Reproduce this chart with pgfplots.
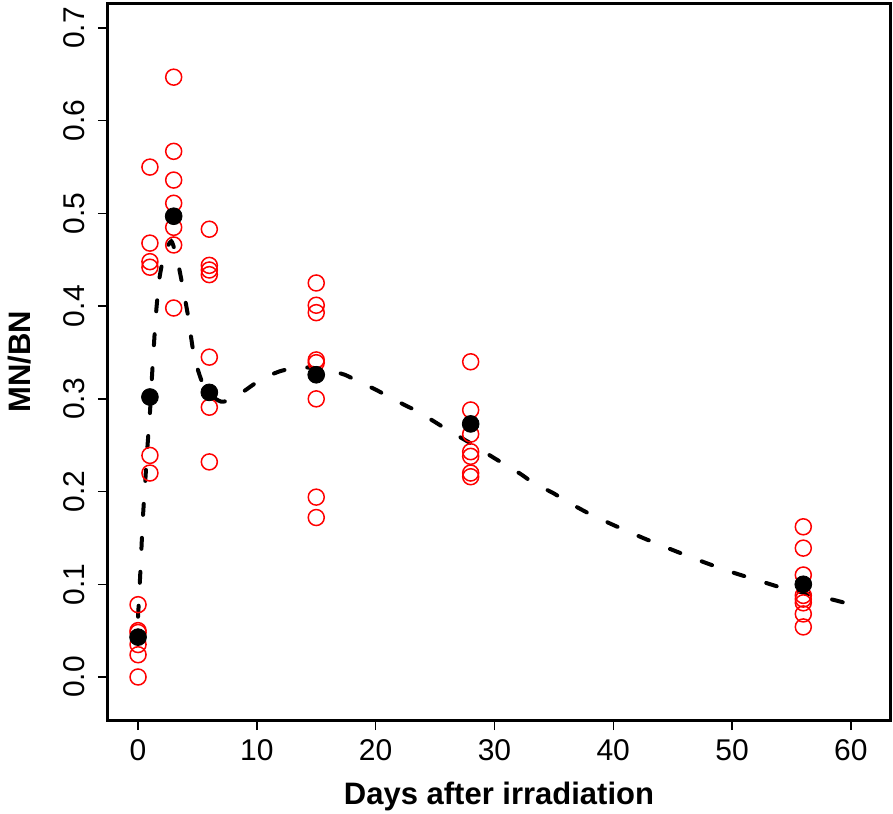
\documentclass[border=0pt]{standalone}
\usepackage{pgfplots}
\pgfplotsset{compat=1.18}
\usepackage{fontspec}
\setmainfont{Liberation Sans}
\begin{document}
\begin{tikzpicture}
\useasboundingbox (-54pt,-46.5pt) rectangle (392.5pt,360pt);
\begin{axis}[
 at={(0,0)}, anchor=south west,
 scale only axis, width=391pt, height=358.5pt,
 xmin=-2.53, xmax=63.3, ymin=-0.0464, ymax=0.727,
 axis line style={line width=1.5pt},
 xtick={0,10,20,30,40,50,60},
 ytick={0,0.1,0.2,0.3,0.4,0.5,0.6,0.7},
 tick align=outside, tick pos=left, major tick length=5pt,
 tick style={line width=0.7pt, black},
 /pgf/number format/assume math mode=true,
 ticklabel style={font=\fontsize{15}{17}\selectfont},
 yticklabel style={rotate=90, anchor=south},
 yticklabel shift=3pt,
 xticklabel shift=1pt,
 yticklabel={\pgfmathprintnumber[fixed,fixed zerofill,precision=1]{\tick}},
 xlabel={\textbf{Days after irradiation}},
 ylabel={\textbf{MN/BN}},
 label style={font=\fontsize{15.5}{18}\selectfont},
 xlabel style={at={(axis description cs:0.5,-0.107)}, anchor=center},
 ylabel style={at={(axis description cs:-0.1125,0.5)}, anchor=center},
 clip=false,
]
% individual observations
\addplot[only marks, mark=o, red, mark size=4pt, mark options={line width=0.75pt}] coordinates {
 (0,0.078) (0,0.050) (0,0.048) (0,0.035) (0,0.024) (0,0.000)
 (1,0.550) (1,0.468) (1,0.448) (1,0.442) (1,0.239) (1,0.220)
 (3,0.647) (3,0.567) (3,0.536) (3,0.511) (3,0.485) (3,0.466) (3,0.398)
 (6,0.483) (6,0.444) (6,0.439) (6,0.434) (6,0.345) (6,0.291) (6,0.232)
 (15,0.425) (15,0.401) (15,0.393) (15,0.342) (15,0.339) (15,0.300) (15,0.194) (15,0.172)
 (28,0.340) (28,0.288) (28,0.262) (28,0.243) (28,0.238) (28,0.220) (28,0.216)
 (56,0.162) (56,0.139) (56,0.110) (56,0.088) (56,0.084) (56,0.080) (56,0.068) (56,0.054)
};
% fitted curve
\addplot[black, line width=2pt, line cap=round, dash pattern=on 5.5pt off 11.5pt, smooth, tension=0.4] coordinates {
 (0,0.065) (0.2,0.115) (0.4,0.17) (0.6,0.21) (0.8,0.25) (1.0,0.285) (1.2,0.33)
 (1.5,0.39) (1.8,0.43) (2.2,0.455) (2.8,0.47) (3.3,0.45) (3.7,0.425) (4.2,0.39)
 (4.6,0.355) (5.0,0.333) (5.4,0.318) (6.0,0.305) (7.0,0.297) (8.0,0.300) (9.0,0.309)
 (10,0.318) (11,0.325) (12,0.330) (13,0.333) (14,0.334) (15,0.333) (16,0.331)
 (17.4,0.326) (18.5,0.319) (20,0.310) (21,0.303) (22.5,0.293) (23.6,0.286)
 (25,0.275) (26,0.267) (28,0.252) (30,0.236) (32.2,0.219) (33.2,0.210) (35,0.198)
 (36,0.190) (38,0.176) (40,0.164) (42.5,0.150) (45,0.137) (47.6,0.124) (50,0.113)
 (52,0.105) (54,0.097) (56,0.091) (58,0.085) (59.5,0.080)
};
% means
\addplot[only marks, mark=*, black, mark size=4.2pt] coordinates {
 (0,0.043) (1,0.302) (3,0.497) (6,0.307) (15,0.326) (28,0.273) (56,0.100)
};
\end{axis}
\end{tikzpicture}
\end{document}
